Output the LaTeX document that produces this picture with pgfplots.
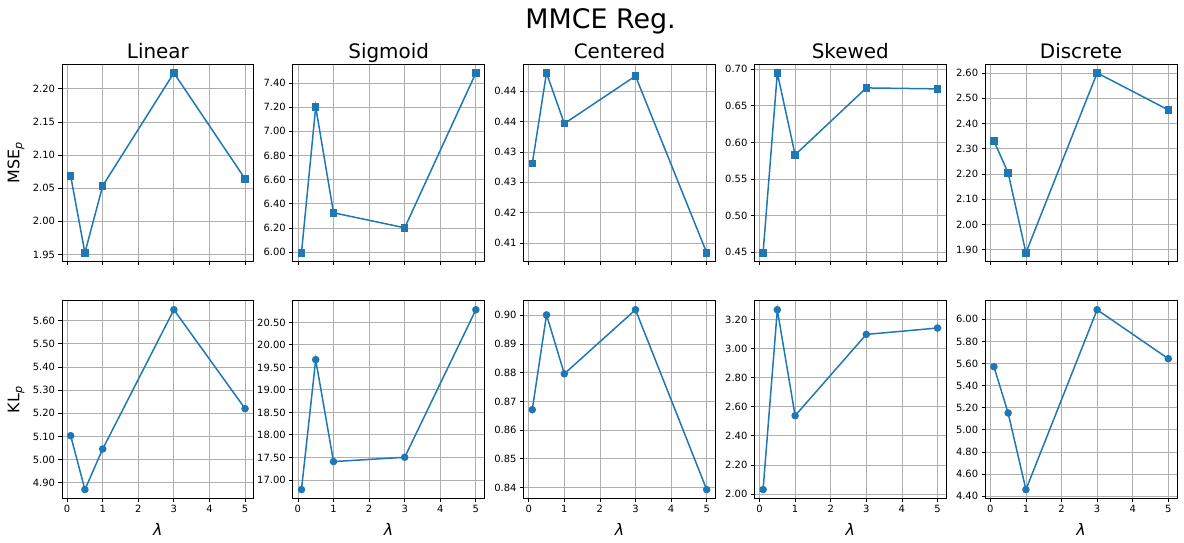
\documentclass[border=0pt]{standalone}
\usepackage{fontspec}
\setmainfont{DejaVu Sans}
\usepackage{pgfplots}
\pgfplotsset{compat=1.18}
\usepgfplotslibrary{groupplots}
\usetikzlibrary{calc}
\definecolor{mplblue}{HTML}{1F77B4}
\definecolor{mplgrid}{HTML}{B0B0B0}

\pgfplotsset{
  mmce/.style={
    scale only axis, width=192bp, height=198bp,
    xmin=-0.145, xmax=5.245, xtick={0,1,2,3,4,5},
    enlarge y limits=0.05,
    grid=major, major grid style={mplgrid, line width=0.8bp},
    axis line style={line width=0.8bp},
    tick align=outside, major tick length=3.5bp,
    tick style={black, line width=0.8bp},
    xtick pos=left, ytick pos=left,
    tick label style={font=\fontsize{10}{12}\selectfont},
    /pgf/number format/assume math mode=true,
    yticklabel style={/pgf/number format/.cd, fixed, fixed zerofill, precision=2},
    scaled y ticks=false,
    every axis title/.style={at={(0.5,1)}, anchor=base, yshift=5bp, font=\fontsize{20}{24}\selectfont},
    every axis x label/.style={at={(0.5,0)}, yshift=-37bp, anchor=base, font=\fontsize{16}{19}\selectfont},
    every axis y label/.style={at={(0,0.5)}, xshift=-42.5bp, rotate=90, anchor=base, font=\fontsize{16}{19}\selectfont},
    every axis plot/.append style={mplblue, line width=1.5bp, mark size=3bp, mark options={solid, fill=mplblue, draw=mplblue}},
  },
}

\begin{document}
\begin{tikzpicture}
\begin{groupplot}[
  group style={group size=5 by 2, horizontal sep=39bp, vertical sep=39bp,
    group name=G, xticklabels at=edge bottom},
  mmce]
% row 1: MSE_p
\nextgroupplot[title={Linear}, ylabel={MSE\textsubscript{\itshape p}},
  ytick={1.95,2.00,2.05,2.10,2.15,2.20}]
\addplot[mark=square*] coordinates {(0.1,2.0687) (0.5,1.9525) (1,2.0536) (3,2.2241) (5,2.0642)};
\nextgroupplot[title={Sigmoid}, ytick={6.0,6.2,6.4,6.6,6.8,7.0,7.2,7.4}]
\addplot[mark=square*] coordinates {(0.1,5.994) (0.5,7.202) (1,6.325) (3,6.201) (5,7.483)};
\nextgroupplot[title={Centered}, ytick={0.414,0.420,0.426,0.432,0.438,0.444},
  yticklabels={0.41,0.42,0.43,0.43,0.44,0.44}]
\addplot[mark=square*] coordinates {(0.1,0.4297) (0.5,0.4476) (1,0.4376) (3,0.4470) (5,0.4121)};
\nextgroupplot[title={Skewed}, ytick={0.45,0.50,0.55,0.60,0.65,0.70}]
\addplot[mark=square*] coordinates {(0.1,0.449) (0.5,0.695) (1,0.583) (3,0.6745) (5,0.6732)};
\nextgroupplot[title={Discrete}, ytick={1.9,2.0,2.1,2.2,2.3,2.4,2.5,2.6}]
\addplot[mark=square*] coordinates {(0.1,2.331) (0.5,2.2045) (1,1.888) (3,2.600) (5,2.4537)};
% row 2: KL_p
\nextgroupplot[ylabel={KL\textsubscript{\itshape p}}, xlabel={\itshape λ},
  ytick={4.9,5.0,5.1,5.2,5.3,5.4,5.5,5.6}]
\addplot[mark=*] coordinates {(0.1,5.103) (0.5,4.870) (1,5.0455) (3,5.6475) (5,5.220)};
\nextgroupplot[xlabel={\itshape λ}, ytick={17.0,17.5,18.0,18.5,19.0,19.5,20.0,20.5}]
\addplot[mark=*] coordinates {(0.1,16.785) (0.5,19.671) (1,17.407) (3,17.503) (5,20.781)};
\nextgroupplot[xlabel={\itshape λ}, ytick={0.84,0.85,0.86,0.87,0.88,0.89,0.90}]
\addplot[mark=*] coordinates {(0.1,0.8671) (0.5,0.9001) (1,0.8796) (3,0.9019) (5,0.8393)};
\nextgroupplot[xlabel={\itshape λ}, ytick={2.0,2.2,2.4,2.6,2.8,3.0,3.2}]
\addplot[mark=*] coordinates {(0.1,2.030) (0.5,3.269) (1,2.539) (3,3.099) (5,3.143)};
\nextgroupplot[xlabel={\itshape λ}, ytick={4.4,4.6,4.8,5.0,5.2,5.4,5.6,5.8,6.0}]
\addplot[mark=*] coordinates {(0.1,5.572) (0.5,5.153) (1,4.460) (3,6.087) (5,5.644)};
\end{groupplot}
\node[anchor=base, font=\fontsize{27}{32}\selectfont] at ($(G c3r1.north)+(-19bp,35.5bp)$) {MMCE Reg.};
\pgfresetboundingbox
\path ($(G c1r1.north west)+(-62bp,64bp)$) rectangle ($(G c5r2.south east)+(7bp,-44bp)$);
\end{tikzpicture}
\end{document}
